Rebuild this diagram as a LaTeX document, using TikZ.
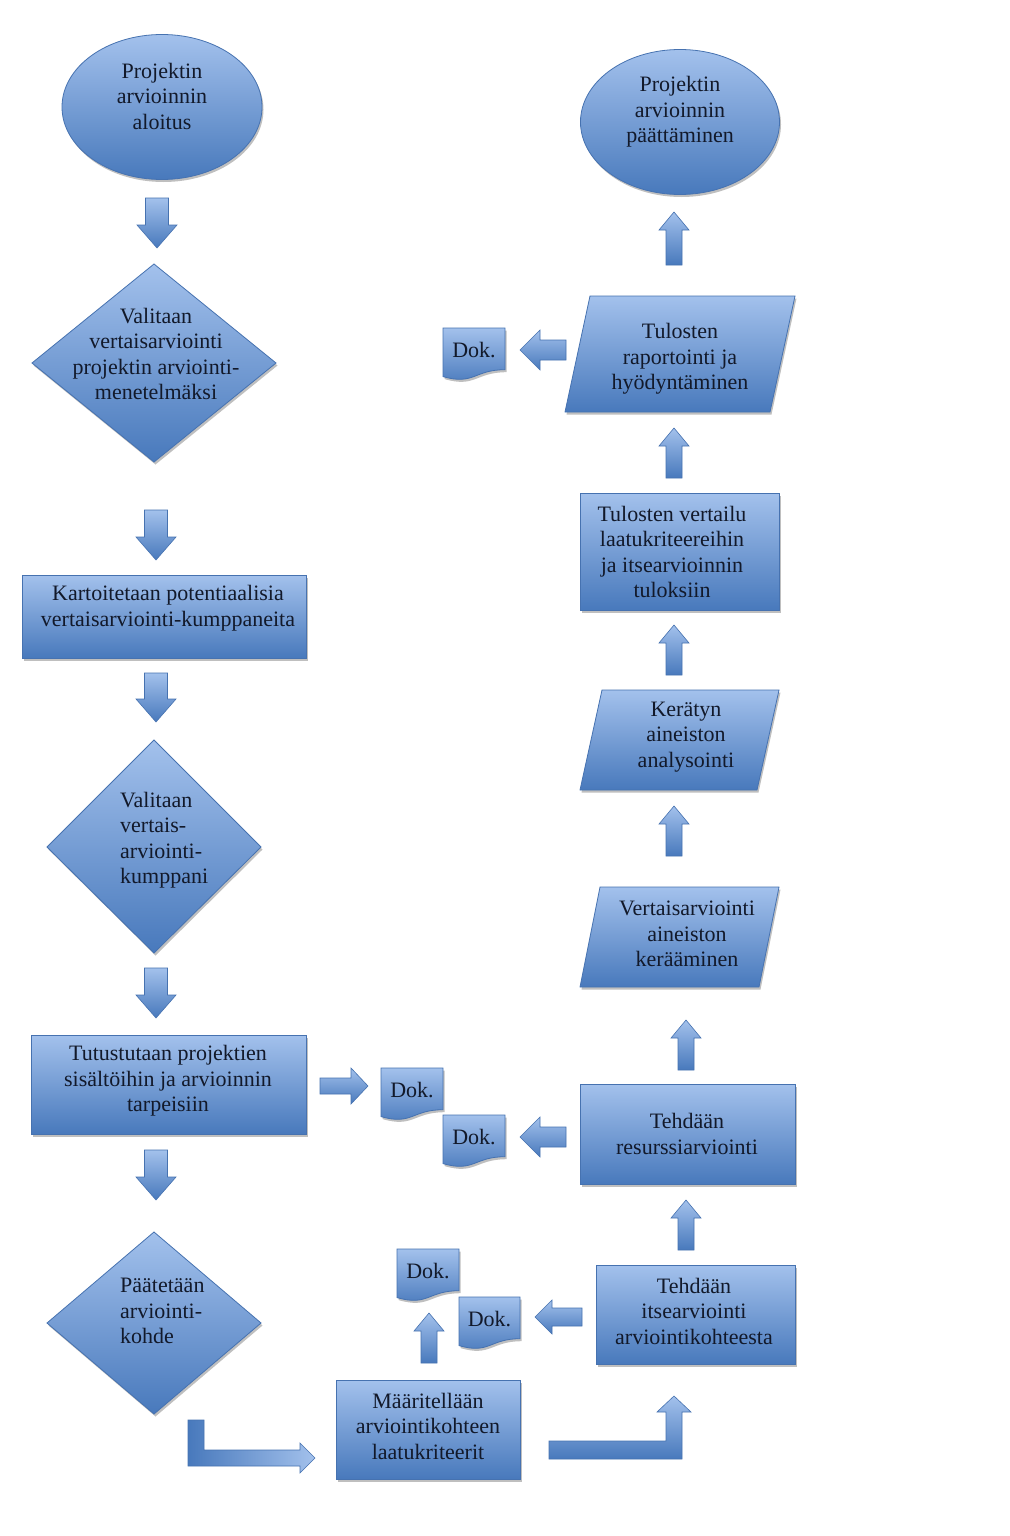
\documentclass[tikz,border=0pt]{standalone}
\usepackage{fontspec}
\setmainfont{Liberation Serif}
\usetikzlibrary{shapes.geometric,shadows}
\definecolor{cTop}{RGB}{163,193,236}
\definecolor{cBot}{RGB}{72,121,188}
\definecolor{cEdge}{RGB}{70,114,176}
\definecolor{cText}{RGB}{18,25,42}
\tikzset{
  shp/.style={draw=cEdge, line width=0.8pt, top color=cTop, bottom color=cBot,
    drop shadow={opacity=0.25, shadow xshift=1.5pt, shadow yshift=-2.5pt, fill=black}},
  arr/.style={draw=cEdge, line width=0.6pt, top color=cTop, bottom color=cBot, line join=miter},
  harr/.style={draw=cEdge, line width=0.6pt, left color=cBot, right color=cTop, line join=miter},
  lbl/.style={align=center, font=\fontsize{22}{25.5}\selectfont, text=cText, inner sep=0pt},
  lbll/.style={align=left, font=\fontsize{22}{25.5}\selectfont, text=cText, inner sep=0pt},
}
\newcommand\varr[6]{%
  \pgfmathsetmacro\hb{#3>#2 ? #3-#6 : #3+#6}%
  \path[arr] (#1-#4,#2) -- (#1+#4,#2) -- (#1+#4,\hb) -- (#1+#5,\hb) -- (#1,#3)
     -- (#1-#5,\hb) -- (#1-#4,\hb) -- cycle;}
\newcommand\harr[6]{%
  \pgfmathsetmacro\hb{#3>#2 ? #3-#6 : #3+#6}%
  \path[arr] (#2,#1-#4) -- (\hb,#1-#4) -- (\hb,#1-#5) -- (#3,#1) -- (\hb,#1+#5)
     -- (\hb,#1+#4) -- (#2,#1+#4) -- cycle;}
\newcommand\dok[5]{%
  \path[shp] (#2,#3) -- (#4,#3) -- (#4,{#3+0.802*(#5-#3)})
    .. controls ({(#2+#4)/2},{#3+0.802*(#5-#3)}) and ({(#2+#4)/2},{#3+1.107*(#5-#3)}) ..
    (#2,{#3+0.934*(#5-#3)}) -- cycle;
  \node[lbl] (#1) at ({(#2+#4)/2},{#3+0.43*(#5-#3)}) {Dok.};}
\begin{document}
\begin{tikzpicture}[x=1pt,y=-1pt]
\fill[white] (0,0) rectangle (1009,1536);
\useasboundingbox (0,0) rectangle (1009,1536);

% ---------------- left column ----------------
\node[shp, ellipse, minimum width=200pt, minimum height=145pt] (start) at (162,107) {};
\node[lbl] (startT) at (162,96) {Projektin\\arvioinnin\\aloitus};
\varr{157}{198}{248}{11.5}{20}{23}

\path[shp] (154,264) coordinate (d1t) -- (276,363) coordinate (d1r) -- (154,462) coordinate (d1b) -- (32,363) coordinate (d1l) -- cycle;
\node[lbl] (d1T) at (156,354) {Valitaan\\vertaisarviointi\\projektin arviointi-\\menetelmäksi};
\varr{156}{510}{560}{11.5}{20}{23}

\node[shp, minimum width=284pt, minimum height=83pt, inner sep=0pt] (kart) at (164,616.5) {};
\node[lbl] (kartT) at (168,608) {Kartoitetaan potentiaalisia\\vertaisarviointi-kumppaneita};
\varr{156}{673}{722}{11.5}{20}{23}

\path[shp] (154,740) coordinate (d2t) -- (261,847) coordinate (d2r) -- (154,953) coordinate (d2b) -- (47,847) coordinate (d2l) -- cycle;
\node[lbll, anchor=west] (d2T) at (120,840) {Valitaan\\vertais-\\arviointi-\\kumppani};
\varr{156}{968}{1018}{11.5}{20}{23}

\node[shp, minimum width=275pt, minimum height=99pt, inner sep=0pt] (tutu) at (168.5,1084.5) {};
\node[lbl] (tutuT) at (168,1081) {Tutustutaan projektien\\sisältöihin ja arvioinnin\\tarpeisiin};
\varr{156}{1150}{1200}{11.5}{20}{23}

\path[shp] (154,1232) coordinate (d3t) -- (261,1323) coordinate (d3r) -- (154,1414) coordinate (d3b) -- (47,1323) coordinate (d3l) -- cycle;
\node[lbll, anchor=west] (d3T) at (120,1311) {Päätetään\\arviointi-\\kohde};

% bent arrow to Määritellään
\path[harr] (188,1420) -- (204,1420) -- (204,1450) -- (300,1450) -- (300,1443) -- (315,1458)
  -- (300,1473) -- (300,1466) -- (188,1466) -- cycle;

\node[shp, minimum width=184pt, minimum height=99pt, inner sep=0pt] (maar) at (428,1429.5) {};
\node[lbl] (maarT) at (428,1426) {Määritellään\\arviointikohteen\\laatukriteerit};

% bent arrow to itsearviointi
\path[arr] (549,1441) -- (666,1441) -- (666,1412) -- (657,1412) -- (674,1396) -- (691,1412)
  -- (682,1412) -- (682,1459) -- (549,1459) -- cycle;

\varr{429}{1363}{1313}{8}{15}{18}
\dok{dokE}{397}{1249}{459}{1301}
\dok{dokD}{459}{1297}{520}{1349}

% ---------------- right column ----------------
\node[shp, minimum width=199pt, minimum height=99pt, inner sep=0pt] (itse) at (695.5,1314.5) {};
\node[lbl] (itseT) at (694,1311) {Tehdään\\itsearviointi\\arviointikohteesta};
\harr{1317}{582}{535}{9}{17}{17}
\varr{686}{1250}{1200}{8}{15}{18}

\node[shp, minimum width=215pt, minimum height=100pt, inner sep=0pt] (resu) at (687.5,1134) {};
\node[lbl] (resuT) at (687,1134) {Tehdään\\resurssiarviointi};
\harr{1137}{566}{520}{10}{20}{20}
\dok{dokC}{443}{1115}{505}{1167}
\harr{1086}{320}{368}{8}{18}{17}
\dok{dokB}{381}{1068}{443}{1120}
\varr{686}{1070}{1020}{8}{15}{18}

\path[shp] (600,887) coordinate (p1a) -- (779,887) coordinate (p1b) -- (759,987) coordinate (p1c) -- (580,987) coordinate (p1d) -- cycle;
\node[lbl] (p1T) at (687,934) {Vertaisarviointi\\aineiston\\kerääminen};
\varr{674}{856}{806}{8}{15}{18}

\path[shp] (602,690) coordinate (p2a) -- (779,690) coordinate (p2b) -- (757,790) coordinate (p2c) -- (580,790) coordinate (p2d) -- cycle;
\node[lbl] (p2T) at (686,737) {Kerätyn\\aineiston\\analysointi};
\varr{674}{675}{625}{8}{15}{18}

\node[shp, minimum width=199pt, minimum height=117pt, inner sep=0pt] (vert) at (679.5,551.5) {};
\node[lbl] (vertT) at (672,552) {Tulosten vertailu\\laatukriteereihin\\ja itsearvioinnin\\tuloksiin};
\varr{674}{478}{428}{8}{15}{18}

\path[shp] (590,296) coordinate (p3a) -- (795,296) coordinate (p3b) -- (770,412) coordinate (p3c) -- (565,412) coordinate (p3d) -- cycle;
\node[lbl] (p3T) at (680,359) {Tulosten\\raportointi ja\\hyödyntäminen};
\harr{350}{566}{520}{10}{20}{20}
\dok{dokA}{443}{328}{505}{380}
\varr{674}{265}{212}{8}{15}{18}

\node[shp, ellipse, minimum width=199pt, minimum height=145pt] (end) at (680,122) {};
\node[lbl] (endT) at (680,112) {Projektin\\arvioinnin\\päättäminen};
\end{tikzpicture}
\end{document}
